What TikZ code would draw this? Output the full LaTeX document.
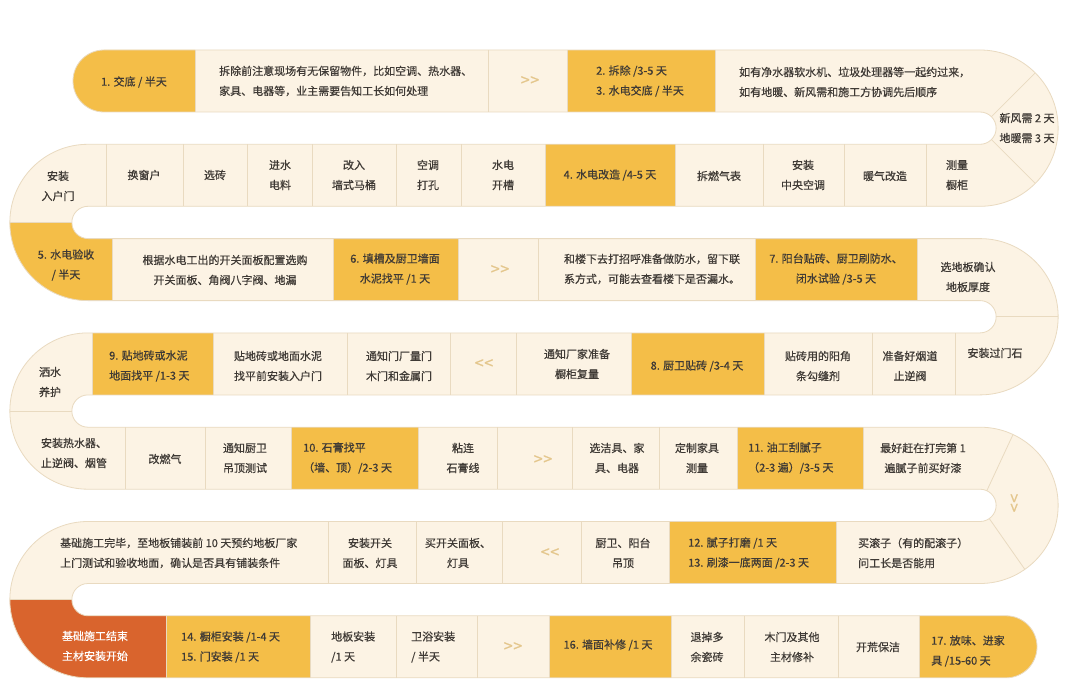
\documentclass[tikz,border=0pt]{standalone}
\usepackage{fontspec}
\setmainfont{Noto Sans CJK SC}[FakeBold=0.6]
\usetikzlibrary{positioning}
\definecolor{track}{HTML}{FCF3E4}
\definecolor{gold}{HTML}{F4BE48}
\definecolor{rust}{HTML}{D9642D}
\definecolor{seam}{HTML}{E9DAC0}
\definecolor{ink}{HTML}{3F3A35}
\definecolor{chev}{HTML}{E4C68C}
\tikzset{
	every node/.style = {font=\fontsize{11}{20}\selectfont, text=ink, inner sep=0pt, align=center},
	lft/.style = {anchor=west, align=left},
	chevron/.style = {text=chev, font=\fontsize{16}{16}\selectfont},
	seamline/.style = {draw=seam, line width=0.8pt}
}
\begin{document}
\begin{tikzpicture}[x=1pt, y=-1pt]
	\useasboundingbox (0,0) rectangle (1080,693);
	\fill[white] (0,0) rectangle (1080,693);
	% the winding track
	\def\trackline{(104,50) -- (980,50) arc[start angle=-90, end angle=90, radius=78.15]
		-- (88,206.3) arc[start angle=270, end angle=90, radius=16.15]
		-- (980,238.6) arc[start angle=-90, end angle=90, radius=78.15]
		-- (88,394.9) arc[start angle=270, end angle=90, radius=16.15]
		-- (980,427.2) arc[start angle=-90, end angle=90, radius=78.15]
		-- (88,583.5) arc[start angle=270, end angle=90, radius=16.15]
		-- (1006,615.8) arc[start angle=-90, end angle=90, radius=31]
		-- (88,677.8) arc[start angle=90, end angle=270, radius=78.15]
		-- (980,521.5) arc[start angle=90, end angle=-90, radius=16.15]
		-- (88,489.2) arc[start angle=90, end angle=270, radius=78.15]
		-- (980,332.9) arc[start angle=90, end angle=-90, radius=16.15]
		-- (88,300.6) arc[start angle=90, end angle=270, radius=78.15]
		-- (980,144.3) arc[start angle=90, end angle=-90, radius=16.15]
		-- (104,112) arc[start angle=90, end angle=270, radius=31] -- cycle}
	\fill[track] \trackline;
	
	% coloured steps
	\fill[gold] (195,50) -- (104,50) arc[start angle=270, end angle=90, radius=31] -- (195,112) -- cycle;
	\foreach \a/\b/\t in {567/715/50, 545/675/144.3, 333/458/238.6, 755/917/238.6,
		92/213/332.9, 631/764/332.9, 291/418/427.2, 737/863/427.2, 669/836/521.5,
		166/310/615.8, 549/671/615.8}
		\fill[gold] (\a,\t) rectangle (\b,\t+62);
	\fill[gold] (9.85,222.45) arc[start angle=180, end angle=90, radius=78.15] -- (112,300.6)
		-- (112,238.6) -- (88,238.6) arc[start angle=90, end angle=180, radius=16.15] -- cycle;
	\fill[gold] (919,615.8) -- (1006,615.8) arc[start angle=-90, end angle=90, radius=31] -- (919,677.8) -- cycle;
	\fill[rust] (9.85,599.65) arc[start angle=180, end angle=90, radius=78.15] -- (166,677.8)
		-- (166,615.8) -- (88,615.8) arc[start angle=90, end angle=180, radius=16.15] -- cycle;
	
	% seams between cells
	\foreach \x in {195,488,567,715} \draw[seamline] (\x,50) -- (\x,112);
	\foreach \x in {106,183,247,312,396,461,545,675,763,844,926} \draw[seamline] (\x,144.3) -- (\x,206.3);
	\foreach \x in {112,333,458,538,755,917} \draw[seamline] (\x,238.6) -- (\x,300.6);
	\foreach \x in {92,213,347,450,516,631,764,872,955} \draw[seamline] (\x,332.9) -- (\x,394.9);
	\foreach \x in {125,205,291,418,497,572,659,737,863} \draw[seamline] (\x,427.2) -- (\x,489.2);
	\foreach \x in {328,416,502,581,669,836} \draw[seamline] (\x,521.5) -- (\x,583.5);
	\foreach \x in {166,310,396,477,549,671,744,838,919} \draw[seamline] (\x,615.8) -- (\x,677.8);
	% seams in the bends
	\foreach \w in {-45,45} \draw[seamline] (980,128.15) ++(\w:16.15) -- ++(\w:62);
	\foreach \w in {-65,55} \draw[seamline] (980,505.35) ++(\w:16.15) -- ++(\w:62);
	\draw[seamline] (9.85,222.45) -- (71.85,222.45);
	\draw[seamline] (996.15,316.75) -- (1058.15,316.75);
	\draw[seamline] (9.85,411.05) -- (71.85,411.05);
	\draw[seamline] (9.85,599.65) -- (71.85,599.65);
	\draw[seamline] \trackline;
	
	% row 1
	\node (r1a) at (134,82) {1. 交底 / 半天};
	\node[lft] (r1b) at (219,81) {拆除前注意现场有无保留物件，比如空调、热水器、\\家具、电器等，业主需要告知工长如何处理};
	\node[chevron] (r1c) at (530,81) {>\kern0.5pt>};
	\node[lft] (r1d) at (596,81) {2. 拆除 /3-5 天\\3. 水电交底 / 半天};
	\node[lft] (r1e) at (739,82) {如有净水器软水机、垃圾处理器等一起约过来，\\如有地暖、新风需和施工方协调先后顺序};
	\node (r1f) at (1027,128) {新风需 2 天\\地暖需 3 天};
	
	% row 2
	\node (r2a) at (58,186) {安装\\入户门};
	\node (r2b) at (144,175) {换窗户};
	\node (r2c) at (215,175) {选砖};
	\node (r2d) at (280,175) {进水\\电料};
	\node (r2e) at (354,175) {改入\\墙式马桶};
	\node (r2f) at (428,175) {空调\\打孔};
	\node (r2g) at (503,175) {水电\\开槽};
	\node (r2h) at (610,175) {4. 水电改造 /4-5 天};
	\node (r2i) at (719,176) {拆燃气表};
	\node (r2j) at (803,175) {安装\\中央空调};
	\node (r2k) at (885,176) {暖气改造};
	\node (r2l) at (957,175) {测量\\橱柜};
	
	% row 3
	\node (r3a) at (66,265) {5. 水电验收\\/ 半天};
	\node (r3b) at (225,270) {根据水电工出的开关面板配置选购\\开关面板、角阀八字阀、地漏};
	\node (r3c) at (395,269) {6. 填槽及厨卫墙面\\水泥找平 /1 天};
	\node[chevron] (r3d) at (500,270) {>\kern0.5pt>};
	\node (r3e) at (652,269) {和楼下去打招呼准备做防水，留下联\\系方式，可能去查看楼下是否漏水。};
	\node (r3f) at (836,269) {7. 阳台贴砖、厨卫刷防水、\\闭水试验 /3-5 天};
	\node (r3g) at (968,277) {选地板确认\\地板厚度};
	
	% row 4
	\node (r4a) at (50,382) {洒水\\养护};
	\node[lft] (r4b) at (109,366) {9. 贴地砖或水泥\\地面找平 /1-3 天};
	\node (r4c) at (278,366) {贴地砖或地面水泥\\找平前安装入户门};
	\node (r4d) at (399,366) {通知门厂量门\\木门和金属门};
	\node[chevron] (r4e) at (484,364) {<\kern0.5pt<};
	\node (r4f) at (577,364) {通知厂家准备\\橱柜复量};
	\node (r4g) at (697,366) {8. 厨卫贴砖 /3-4 天};
	\node (r4h) at (818,366) {贴砖用的阳角\\条勾缝剂};
	\node (r4i) at (910,366) {准备好烟道\\止逆阀};
	\node (r4j) at (995,353) {安装过门石};
	
	% row 5
	\node (r5a) at (74,453) {安装热水器、\\止逆阀、烟管};
	\node (r5b) at (165,459) {改燃气};
	\node (r5c) at (245,458) {通知厨卫\\吊顶测试};
	\node[lft] (r5d) at (303,458) {10. 石膏找平\\（墙、顶）/2-3 天};
	\node (r5e) at (463,458) {粘连\\石膏线};
	\node[chevron] (r5f) at (543,460) {>\kern0.5pt>};
	\node (r5g) at (617,458) {选洁具、家\\具、电器};
	\node (r5h) at (697,458) {定制家具\\测量};
	\node[lft] (r5i) at (748,458) {11. 油工刮腻子\\（2-3 遍）/3-5 天};
	\node (r5j) at (923,458) {最好赶在打完第 1\\遍腻子前买好漆};
	\node[chevron, rotate=-90] (r5k) at (1013,503) {>\kern0.5pt>};
	
	% row 6
	\node[lft] (r6a) at (60,553) {基础施工完毕，至地板铺装前 10 天预约地板厂家\\上门测试和验收地面，确认是否具有铺装条件};
	\node (r6b) at (370,553) {安装开关\\面板、灯具};
	\node (r6c) at (458,553) {买开关面板、\\灯具};
	\node[chevron] (r6d) at (550,553) {<\kern0.5pt<};
	\node (r6e) at (623,553) {厨卫、阳台\\吊顶};
	\node[lft] (r6f) at (688,553) {12. 腻子打磨 /1 天\\13. 刷漆一底两面 /2-3 天};
	\node[lft] (r6g) at (858,553) {买滚子（有的配滚子）\\问工长是否能用};
	
	% row 7
	\node[text=white] (r7a) at (95,646) {基础施工结束\\主材安装开始};
	\node[lft] (r7b) at (181,647) {14. 橱柜安装 /1-4 天\\15. 门安装 /1 天};
	\node[lft] (r7c) at (331,647) {地板安装\\/1 天};
	\node[lft] (r7d) at (411,647) {卫浴安装\\/ 半天};
	\node[chevron] (r7e) at (513,647) {>\kern0.5pt>};
	\node (r7f) at (608,645) {16. 墙面补修 /1 天};
	\node (r7g) at (707,647) {退掉多\\余瓷砖};
	\node (r7h) at (792,647) {木门及其他\\主材修补};
	\node (r7i) at (878,647) {开荒保洁};
	\node[lft] (r7j) at (931,651) {17. 放味、进家\\具 /15-60 天};
\end{tikzpicture}
\end{document}
